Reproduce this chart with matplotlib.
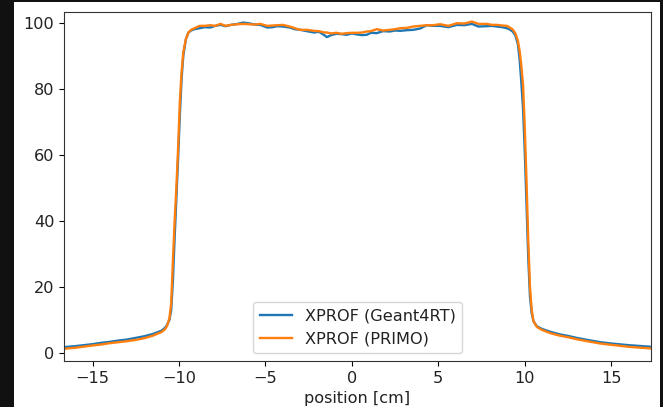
import matplotlib
matplotlib.use("Agg")
import matplotlib.pyplot as plt
from matplotlib.patches import Rectangle

# lateral dose profiles [cm, %]
pos_g4 = [-16.65, -16.0, -15.0, -14.5, -14.0, -13.5, -13.0, -12.5, -12.0, -11.5,
          -11.0, -10.8, -10.7, -10.55, -10.45, -10.35, -10.25, -10.15, -10.05,
          -9.95, -9.85, -9.75, -9.6, -9.45, -9.3, -9.1,
          -8.8, -8.5, -8.2, -7.9, -7.6, -7.3, -7.0, -6.6, -6.3, -6.0, -5.6, -5.3,
          -4.9, -4.6, -4.3, -4.0, -3.6, -3.3, -3.0, -2.6, -2.2, -1.9, -1.6, -1.45,
          -1.2, -0.9, -0.6, -0.3, 0.0, 0.3, 0.6, 0.86, 1.1, 1.44, 1.8, 2.2, 2.5,
          2.8, 3.2, 3.55, 3.95, 4.33, 4.7, 5.1, 5.58, 6.07, 6.5, 6.94, 7.32, 7.81,
          8.1, 8.39, 8.7, 8.96,
          9.1, 9.3, 9.45, 9.6, 9.7, 9.8, 9.9, 10.0, 10.1, 10.2, 10.3, 10.4, 10.5,
          10.7, 11.0, 11.5, 12.0, 12.5, 13.0, 13.5, 14.36, 15.0, 16.0, 17.3]
dose_g4 = [1.7, 2.0, 2.6, 3.0, 3.3, 3.7, 4.0, 4.5, 5.0, 5.7,
           6.7, 7.6, 8.3, 10.0, 13.0, 22.0, 35.0, 47.0, 59.0,
           72.0, 83.0, 90.0, 95.0, 97.0, 97.6, 98.0,
           98.3, 98.6, 98.5, 99.0, 99.3, 98.9, 99.3, 99.6, 100.0, 99.8, 99.4, 99.3,
           98.5, 98.6, 98.9, 98.8, 98.5, 98.0, 97.8, 97.4, 97.0, 97.2, 96.2, 95.6,
           96.2, 96.6, 96.5, 96.3, 96.7, 96.4, 96.2, 96.3, 96.9, 96.8, 97.4, 97.3, 97.6,
           97.5, 97.7, 97.8, 98.2, 99.2, 99.0, 99.0, 98.6, 99.3, 99.2, 99.6, 98.8, 98.9,
           99.0, 98.8, 98.6, 98.3,
           98.0, 97.3, 96.2, 93.5, 89.0, 82.0, 74.0, 61.0, 45.0, 29.0, 17.0, 12.0, 9.6,
           8.0, 7.2, 6.3, 5.6, 5.1, 4.5, 4.0, 3.2, 2.8, 2.3, 1.8]

pos_primo = [-16.65, -16.0, -15.0, -14.5, -14.0, -13.5, -13.0, -12.5, -12.0, -11.5,
             -11.0, -10.8, -10.7, -10.55, -10.45, -10.35, -10.25, -10.15, -10.05,
             -9.95, -9.85, -9.75, -9.6, -9.45, -9.3, -9.1,
             -8.8, -8.5, -8.2, -7.9, -7.6, -7.3, -7.0, -6.6, -6.3, -6.0, -5.6, -5.3,
             -4.9, -4.6, -4.3, -4.0, -3.6, -3.3, -3.0, -2.6, -2.2, -1.9, -1.6, -1.45,
             -1.2, -0.9, -0.6, -0.3, 0.0, 0.3, 0.6, 0.86, 1.1, 1.44, 1.8, 2.2, 2.5,
             2.8, 3.2, 3.55, 3.95, 4.33, 4.7, 5.1, 5.58, 6.07, 6.5, 6.94, 7.32, 7.81,
             8.1, 8.39, 8.7, 8.96,
             9.1, 9.3, 9.45, 9.6, 9.7, 9.8, 9.9, 10.0, 10.1, 10.2, 10.3, 10.4, 10.5,
             10.7, 11.0, 11.5, 12.0, 12.5, 13.0, 13.5, 14.36, 15.0, 16.0, 17.3]
dose_primo = [1.2, 1.5, 2.2, 2.5, 2.9, 3.2, 3.5, 3.9, 4.4, 5.2,
              6.3, 7.2, 8.0, 10.5, 15.0, 28.0, 40.0, 50.0, 62.0,
              76.0, 85.0, 91.0, 95.0, 97.0, 97.8, 98.3,
              99.0, 99.0, 99.2, 99.0, 99.6, 99.0, 99.3, 99.5, 99.6, 99.5, 99.4, 99.6,
              99.0, 99.1, 99.2, 99.3, 98.8, 98.3, 97.8, 97.8, 97.5, 97.4, 97.0, 97.0,
              96.7, 96.9, 96.6, 96.8, 96.9, 96.9, 97.0, 97.3, 97.4, 98.0, 97.6, 97.8, 98.0,
              98.3, 98.4, 98.8, 99.0, 99.2, 99.2, 99.5, 99.0, 99.8, 99.7, 100.3, 99.6, 99.6,
              99.3, 99.3, 99.1, 99.0,
              98.6, 97.9, 96.8, 94.5, 91.5, 87.0, 81.0, 68.0, 52.0, 34.0, 20.0, 13.0, 9.6,
              7.8, 6.9, 5.9, 5.2, 4.7, 4.1, 3.6, 2.8, 2.4, 1.8, 1.3]

W, H = 663, 407
FS = 11.6
fig = plt.figure(figsize=(W / 100, H / 100), dpi=100, facecolor="#111111")
# white canvas behind the axes, dark frame around it
fig.add_artist(Rectangle((14 / W, 0), (660 - 14) / W, (H - 2) / H,
                         transform=fig.transFigure, facecolor="white",
                         edgecolor="none", zorder=-10))

ax = fig.add_axes([64 / W, (H - 361) / H, (651 - 64) / W, (361 - 12) / H])
ax.plot(pos_g4, dose_g4, color="#1f77b4", lw=1.7, label="XPROF (Geant4RT)")
ax.plot(pos_primo, dose_primo, color="#ff7f0e", lw=1.7, label="XPROF (PRIMO)")

ax.set_xlim(-16.65, 17.3)
ax.set_ylim(-2.5, 103.2)
ax.set_xticks([-15, -10, -5, 0, 5, 10, 15])
ax.set_yticks([0, 20, 40, 60, 80, 100])
ax.tick_params(labelsize=FS, labelcolor="#222222")
for s in ax.spines.values():
    s.set_color("#333333")
ax.set_xlabel("position [cm]", fontsize=FS, color="#222222")
leg = ax.legend(loc="lower center", fontsize=FS)
for t in leg.get_texts():
    t.set_color("#222222")

fig.savefig("out.png", dpi=100, facecolor=fig.get_facecolor())
